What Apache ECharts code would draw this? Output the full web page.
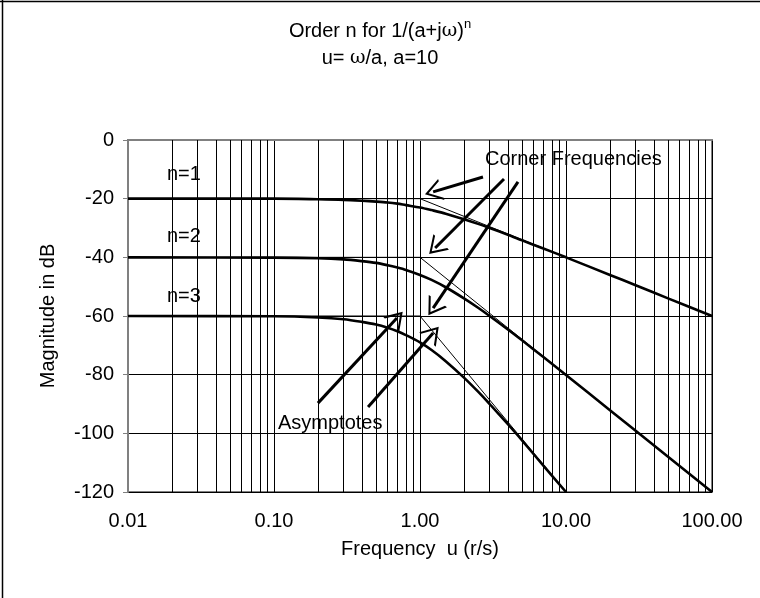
<!DOCTYPE html>
<html>
<head>
<meta charset="utf-8">
<script src="https://cdn.jsdelivr.net/npm/echarts@6/dist/echarts.min.js"></script>
<style>
html,body{margin:0;padding:0;background:#fff;}
#chart{width:760px;height:598px;}
</style>
</head>
<body>
<div id="chart"></div>
<script>
// Frequencies u (r/s) at which the curves were read
var freqs = [0.01, 0.1, 0.2, 0.3, 0.4, 0.5, 0.6, 0.7, 0.8, 1, 1.2, 1.5, 2, 2.5, 3, 4, 5, 7, 10, 20, 30, 50, 100];
// Magnitudes in dB
var magN1 = [-20.0, -20.0, -20.2, -20.4, -20.7, -21.0, -21.3, -21.7, -22.2, -23.0, -23.9, -25.1, -27.0, -28.6, -30.0, -32.3, -34.2, -37.0, -40.0, -46.0, -49.5, -54.0, -60.0];
var magN2 = [-40.0, -40.1, -40.3, -40.7, -41.3, -41.9, -42.7, -43.5, -44.3, -46.0, -47.7, -50.2, -54.0, -57.2, -60.0, -64.6, -68.3, -74.0, -80.1, -92.1, -99.1, -108.0, -120.0];
var magN3 = [-60.0, -60.1, -60.5, -61.1, -62.0, -62.9, -64.0, -65.2, -66.5, -69.0, -71.6, -75.4, -81.0, -85.8, -90.0, -96.9, -102.4, -111.0, -120.0];
// Asymptotes (corner at u = 1)
var asymN1 = [[0.01, -20], [1, -20], [100, -60]];
var asymN2 = [[0.01, -40], [1, -40], [100, -120]];
var asymN3 = [[0.01, -60], [1, -60], [10, -120]];
// Minor (2..9) vertical grid positions
var minorTicks = [0.02,0.03,0.04,0.05,0.06,0.07,0.08,0.09,
                  0.2,0.3,0.4,0.5,0.6,0.7,0.8,0.9,
                  2,3,4,5,6,7,8,9,
                  20,30,40,50,60,70,80,90];
// Annotation arrows [from, to] in data coordinates
var cornerArrows = [
  [[2.70, -12.6], [1.23, -17.7]],
  [[3.76, -13.3], [1.27, -36.8]],
  [[4.69, -14.3], [1.23, -57.3]]
];
var asymArrows = [
  [[0.200, -89.7], [0.695, -60.7]],
  [[0.441, -91.0], [1.23, -65.8]]
];

function pairs(xs, ys) {
  var out = [];
  for (var i = 0; i < ys.length; i++) out.push([xs[i], ys[i]]);
  return out;
}

var FONT = 'Liberation Sans';
var FS = 20;
var chevron = 'path://M0,10 L5,0 L10,10 L8.9,10 L5,2.2 L1.1,10 Z';

var arrowLines = cornerArrows.concat(asymArrows).map(function (a) {
  return [{coord: a[0], symbol: 'none'}, {coord: a[1], symbol: chevron, symbolSize: [22, 17]}];
});

var chart = echarts.init(document.getElementById('chart'), null, {renderer: 'canvas'});
chart.setOption({
  animation: false,
  backgroundColor: '#fff',
  textStyle: {fontFamily: FONT},
  title: {
    text: 'Order n for 1/(a+j{w|ω}){s|n}\nu= {w|ω}/a, a=10',
    left: 'center',
    top: 13,
    textStyle: {
      fontFamily: FONT, fontSize: FS, fontWeight: 'normal', color: '#000', lineHeight: 27,
      rich: {
        w: {fontFamily: 'DejaVu Serif', fontSize: FS - 1, color: '#000', lineHeight: 27},
        s: {fontFamily: FONT, fontSize: 13, color: '#000', verticalAlign: 'top', lineHeight: 27, padding: [0, 0, 8, 0]}
      }
    }
  },
  grid: {left: 128, right: 48, top: 140, bottom: 106, show: true, borderColor: '#808080', borderWidth: 2, backgroundColor: '#fff'},
  xAxis: {
    type: 'log', logBase: 10, min: 0.01, max: 100,
    name: 'Frequency  u (r/s)', nameLocation: 'middle', nameGap: 47,
    nameTextStyle: {fontFamily: FONT, fontSize: FS, color: '#000'},
    axisLine: {show: true, lineStyle: {color: '#808080', width: 2}},
    axisTick: {show: false},
    axisLabel: {fontFamily: FONT, fontSize: FS, color: '#000', margin: 19, formatter: function (v) { return Number(v).toFixed(2); }},
    splitLine: {show: true, lineStyle: {color: '#000', width: 1}}
  },
  yAxis: {
    type: 'value', min: -120, max: 0, interval: 20,
    name: 'Magnitude in dB', nameLocation: 'middle', nameGap: 70, nameRotate: 90,
    nameTextStyle: {fontFamily: FONT, fontSize: FS, color: '#000'},
    axisLine: {show: true, lineStyle: {color: '#808080', width: 2}},
    axisTick: {show: true, length: 5, inside: false, lineStyle: {color: '#808080'}},
    axisLabel: {fontFamily: FONT, fontSize: FS, color: '#000', margin: 14},
    splitLine: {show: true, lineStyle: {color: '#000', width: 1}}
  },
  series: [
    {
      type: 'line', data: [], silent: true,
      markLine: {
        silent: true, symbol: 'none', label: {show: false}, animation: false,
        lineStyle: {color: '#000', width: 1, type: 'solid'},
        data: minorTicks.map(function (v) { return {xAxis: v}; })
      }
    },
    {type: 'line', name: 'asym1', data: asymN1, showSymbol: false, silent: true, lineStyle: {color: '#000', width: 1}, z: 3},
    {type: 'line', name: 'asym2', data: asymN2, showSymbol: false, silent: true, lineStyle: {color: '#000', width: 1}, z: 3},
    {type: 'line', name: 'asym3', data: asymN3, showSymbol: false, silent: true, lineStyle: {color: '#000', width: 1}, z: 3},
    {type: 'line', name: 'n=1', data: pairs(freqs, magN1), smooth: 0.3, showSymbol: false, lineStyle: {color: '#000', width: 2.6}, z: 4},
    {type: 'line', name: 'n=2', data: pairs(freqs, magN2), smooth: 0.3, showSymbol: false, lineStyle: {color: '#000', width: 2.6}, z: 4},
    {type: 'line', name: 'n=3', data: pairs(freqs, magN3), smooth: 0.3, showSymbol: false, lineStyle: {color: '#000', width: 2.6}, z: 4,
      markLine: {
        silent: true, label: {show: false}, animation: false,
        lineStyle: {color: '#000', width: 3, type: 'solid'},
        itemStyle: {color: '#000'},
        data: arrowLines
      }
    }
  ],
  graphic: [
    {type: 'line', shape: {x1: 2.5, y1: 0, x2: 2.5, y2: 598}, style: {stroke: '#000', lineWidth: 1.5}, silent: true},
    {type: 'line', shape: {x1: 0, y1: 1.5, x2: 760, y2: 1.5}, style: {stroke: '#000', lineWidth: 1.5}, silent: true},
    {type: 'text', left: 167, top: 164, style: {text: 'n=1', font: FS + 'px ' + FONT, fill: '#000'}, z: 10},
    {type: 'text', left: 167, top: 226, style: {text: 'n=2', font: FS + 'px ' + FONT, fill: '#000'}, z: 10},
    {type: 'text', left: 167, top: 286, style: {text: 'n=3', font: FS + 'px ' + FONT, fill: '#000'}, z: 10},
    {type: 'text', left: 485, top: 149, style: {text: 'Corner Frequencies', font: FS + 'px ' + FONT, fill: '#000'}, z: 10},
    {type: 'text', left: 278, top: 413, style: {text: 'Asymptotes', font: FS + 'px ' + FONT, fill: '#000'}, z: 10}
  ]
});
</script>
</body>
</html>
